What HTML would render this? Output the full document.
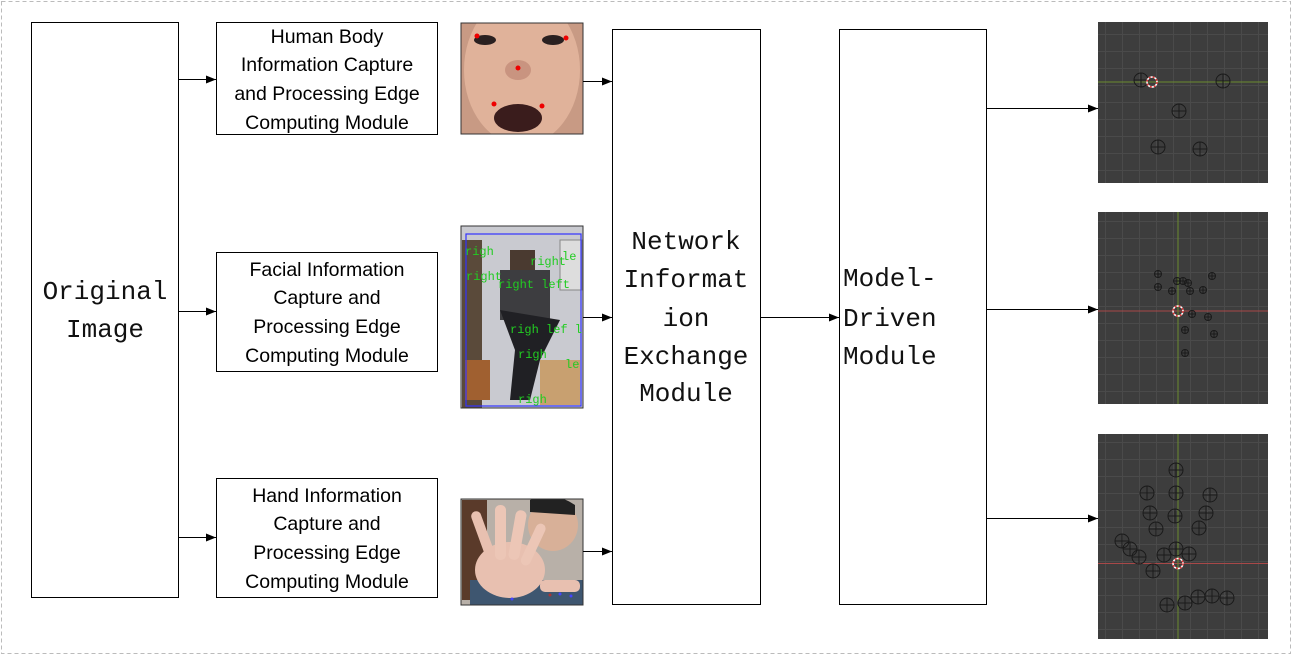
<!DOCTYPE html>
<html><head><meta charset="utf-8"><style>
html,body{margin:0;padding:0;background:#fff;}
svg{display:block;}
.m{font-family:"Liberation Mono",monospace;font-size:26px;fill:#111;}
.s{font-family:"Liberation Sans",sans-serif;font-size:19.5px;fill:#000;text-anchor:middle;}
</style></head><body>
<svg width="1293" height="656" viewBox="0 0 1293 656" xmlns="http://www.w3.org/2000/svg">
<defs>
<marker id="a" markerWidth="10" markerHeight="8" refX="10" refY="4" orient="auto" markerUnits="userSpaceOnUse"><path d="M0,0 L10,4 L0,8 z" fill="#000"/></marker>
<pattern id="g" width="17" height="17" patternUnits="userSpaceOnUse"><rect width="17" height="17" fill="#3d3d3d"/><path d="M0,0.5H17M0.5,0V17" stroke="#4a4a4a" stroke-width="1"/></pattern>
<g id="c"><circle r="7" fill="none" stroke="#1a1a1a" stroke-width="1"/><path d="M-7,0H7M0,-7V7" stroke="#1a1a1a" stroke-width="1"/></g>
<g id="cs"><circle r="3.5" fill="none" stroke="#1a1a1a" stroke-width="1"/><path d="M-3.5,0H3.5M0,-3.5V3.5" stroke="#1a1a1a" stroke-width="1"/></g>
<g id="r"><circle r="5" fill="none" stroke="#fff" stroke-width="1.5"/><circle r="5" fill="none" stroke="#d33" stroke-width="1.5" stroke-dasharray="2 2"/></g>
<clipPath id="p1"><rect x="461" y="23" width="122" height="111"/></clipPath>
<clipPath id="p2"><rect x="461" y="226" width="122" height="182"/></clipPath>
<clipPath id="p3"><rect x="461" y="499" width="122" height="106"/></clipPath>
</defs>
<rect x="1.5" y="1.5" width="1289" height="652" fill="none" stroke="#bbb" stroke-dasharray="4 3"/>

<rect x="31.5" y="22.5" width="147" height="575" fill="#fff" stroke="#000"/>
<text class="m" x="105" y="299" text-anchor="middle">Original</text>
<text class="m" x="105" y="337" text-anchor="middle">Image</text>

<rect x="216.5" y="22.5" width="221" height="112" fill="#fff" stroke="#000"/>
<text class="s" x="327" y="43">Human Body</text>
<text class="s" x="327" y="71">Information Capture</text>
<text class="s" x="327" y="100">and Processing Edge</text>
<text class="s" x="327" y="129">Computing Module</text>

<rect x="216.5" y="252.5" width="221" height="119" fill="#fff" stroke="#000"/>
<text class="s" x="327" y="276">Facial Information</text>
<text class="s" x="327" y="304">Capture and</text>
<text class="s" x="327" y="333">Processing Edge</text>
<text class="s" x="327" y="362">Computing Module</text>

<rect x="216.5" y="478.5" width="221" height="119" fill="#fff" stroke="#000"/>
<text class="s" x="327" y="502">Hand Information</text>
<text class="s" x="327" y="530">Capture and</text>
<text class="s" x="327" y="559">Processing Edge</text>
<text class="s" x="327" y="588">Computing Module</text>

<rect x="612.5" y="29.5" width="148" height="575" fill="#fff" stroke="#000"/>
<text class="m" x="686" y="249" text-anchor="middle">Network</text>
<text class="m" x="686" y="287" text-anchor="middle">Informat</text>
<text class="m" x="686" y="326" text-anchor="middle">ion</text>
<text class="m" x="686" y="364" text-anchor="middle">Exchange</text>
<text class="m" x="686" y="401" text-anchor="middle">Module</text>

<rect x="839.5" y="29.5" width="147" height="575" fill="#fff" stroke="#000"/>
<text class="m" x="843" y="286">Model-</text>
<text class="m" x="843" y="326">Driven</text>
<text class="m" x="843" y="364">Module</text>

<g clip-path="url(#p1)">
<rect x="461" y="23" width="122" height="111" fill="#c89a84"/>
<ellipse cx="522" cy="70" rx="58" ry="75" fill="#e0b29a"/>
<ellipse cx="485" cy="40" rx="11" ry="5" fill="#2a2020"/>
<ellipse cx="553" cy="40" rx="11" ry="5" fill="#2a2020"/>
<ellipse cx="518" cy="70" rx="13" ry="10" fill="#c99480"/>
<ellipse cx="518" cy="118" rx="24" ry="14" fill="#3a1c1c"/>
<circle cx="477" cy="36" r="2.5" fill="#e00"/><circle cx="566" cy="38" r="2.5" fill="#e00"/>
<circle cx="518" cy="68" r="2.5" fill="#e00"/><circle cx="494" cy="104" r="2.5" fill="#e00"/><circle cx="542" cy="106" r="2.5" fill="#e00"/>
</g>
<rect x="461" y="23" width="122" height="111" fill="none" stroke="#333"/>
<g clip-path="url(#p2)">
<rect x="461" y="226" width="122" height="182" fill="#c9cad0"/>
<rect x="462" y="240" width="20" height="168" fill="#5a4a3a"/>
<rect x="560" y="240" width="22" height="50" fill="#ddd" stroke="#888"/>
<rect x="510" y="250" width="25" height="25" fill="#4a3a30"/>
<rect x="500" y="270" width="50" height="50" fill="#3d3d40"/>
<path d="M500,310 L560,320 L540,360 L530,400 L510,400 L515,350 Z" fill="#202024"/>
<rect x="540" y="360" width="40" height="45" fill="#c8a070"/>
<rect x="465" y="360" width="25" height="40" fill="#a06030"/>
<rect x="466" y="234" width="115" height="172" fill="none" stroke="#33f" stroke-width="1.2"/>
<g font-family="Liberation Mono,monospace" font-size="12" fill="#2c2">
<text x="465" y="255">righ</text><text x="530" y="265">right</text><text x="562" y="260">le</text>
<text x="466" y="280">right</text><text x="498" y="288">right left</text>
<text x="510" y="333">righ lef le</text><text x="518" y="358">righ</text><text x="565" y="368">le</text>
<text x="518" y="403">righ</text></g>
</g>
<rect x="461" y="226" width="122" height="182" fill="none" stroke="#333"/>
<g clip-path="url(#p3)">
<rect x="461" y="499" width="122" height="106" fill="#b8b0a8"/>
<rect x="462" y="500" width="25" height="100" fill="#5a3a2a"/>
<ellipse cx="553" cy="525" rx="25" ry="26" fill="#d8b098"/>
<path d="M530,500 Q553,490 575,505 L575,515 L530,512Z" fill="#222"/>
<rect x="470" y="580" width="113" height="25" fill="#3e5670"/>
<ellipse cx="510" cy="570" rx="35" ry="28" fill="#e8c0b0"/>
<rect x="478" y="510" width="10" height="50" rx="5" fill="#e8c0b0" transform="rotate(-20 483 535)"/>
<rect x="495" y="505" width="11" height="55" rx="5" fill="#ecc6b6"/>
<rect x="512" y="510" width="11" height="50" rx="5" fill="#ecc6b6" transform="rotate(10 517 535)"/>
<rect x="528" y="522" width="10" height="45" rx="5" fill="#ecc6b6" transform="rotate(25 533 545)"/>
<rect x="540" y="580" width="40" height="12" rx="5" fill="#e8c0b0"/>
<circle cx="512" cy="599" r="1.5" fill="#44f"/><circle cx="560" cy="594" r="1.5" fill="#44f"/><circle cx="571" cy="596" r="1.5" fill="#44f"/><circle cx="550" cy="595" r="1.5" fill="#a33"/>
</g>
<rect x="461" y="499" width="122" height="106" fill="none" stroke="#333"/>

<g stroke="#000" stroke-width="1" marker-end="url(#a)">
<line x1="178" y1="79.5" x2="216" y2="79.5"/>
<line x1="178" y1="311.5" x2="216" y2="311.5"/>
<line x1="178" y1="537.5" x2="216" y2="537.5"/>
<line x1="583" y1="81.5" x2="612" y2="81.5"/>
<line x1="583" y1="317.5" x2="612" y2="317.5"/>
<line x1="583" y1="551.5" x2="612" y2="551.5"/>
<line x1="760" y1="317.5" x2="839" y2="317.5"/>
<line x1="986" y1="108.5" x2="1098" y2="108.5"/>
<line x1="986" y1="309.5" x2="1098" y2="309.5"/>
<line x1="986" y1="518.5" x2="1098" y2="518.5"/>
</g>

<rect x="1098" y="22" width="170" height="161" fill="url(#g)"/>
<line x1="1098" y1="82" x2="1268" y2="82" stroke="#6a8a30"/>
<use href="#c" x="1141" y="80"/><use href="#c" x="1223" y="81"/><use href="#c" x="1179" y="111"/><use href="#c" x="1158" y="147"/><use href="#c" x="1200" y="149"/>
<use href="#r" x="1152" y="82"/>

<rect x="1098" y="212" width="170" height="192" fill="url(#g)"/>
<line x1="1098" y1="311" x2="1268" y2="311" stroke="#a84848"/>
<line x1="1178" y1="212" x2="1178" y2="404" stroke="#6a8a30"/>
<use href="#cs" x="1158" y="274"/><use href="#cs" x="1158" y="287"/><use href="#cs" x="1172" y="291"/><use href="#cs" x="1177" y="281"/><use href="#cs" x="1183" y="281"/><use href="#cs" x="1188" y="283"/><use href="#cs" x="1190" y="291"/><use href="#cs" x="1203" y="290"/><use href="#cs" x="1212" y="276"/><use href="#cs" x="1192" y="314"/><use href="#cs" x="1208" y="317"/><use href="#cs" x="1185" y="330"/><use href="#cs" x="1214" y="334"/><use href="#cs" x="1185" y="353"/>
<use href="#r" x="1178" y="311"/>

<rect x="1098" y="434" width="170" height="205" fill="url(#g)"/>
<line x1="1098" y1="563.5" x2="1268" y2="563.5" stroke="#a84848"/>
<line x1="1178" y1="434" x2="1178" y2="639" stroke="#6a8a30"/>
<use href="#c" x="1176" y="470"/><use href="#c" x="1147" y="493"/><use href="#c" x="1176" y="493"/><use href="#c" x="1210" y="495"/><use href="#c" x="1150" y="513"/><use href="#c" x="1175" y="516"/><use href="#c" x="1206" y="513"/><use href="#c" x="1156" y="529"/><use href="#c" x="1199" y="528"/><use href="#c" x="1122" y="541"/><use href="#c" x="1130" y="549"/><use href="#c" x="1139" y="557"/><use href="#c" x="1164" y="555"/><use href="#c" x="1176" y="549"/><use href="#c" x="1189" y="554"/><use href="#c" x="1153" y="571"/><use href="#c" x="1167" y="605"/><use href="#c" x="1185" y="603"/><use href="#c" x="1198" y="597"/><use href="#c" x="1212" y="596"/><use href="#c" x="1227" y="598"/>
<use href="#r" x="1178" y="563.5"/>
</svg>
</body></html>
